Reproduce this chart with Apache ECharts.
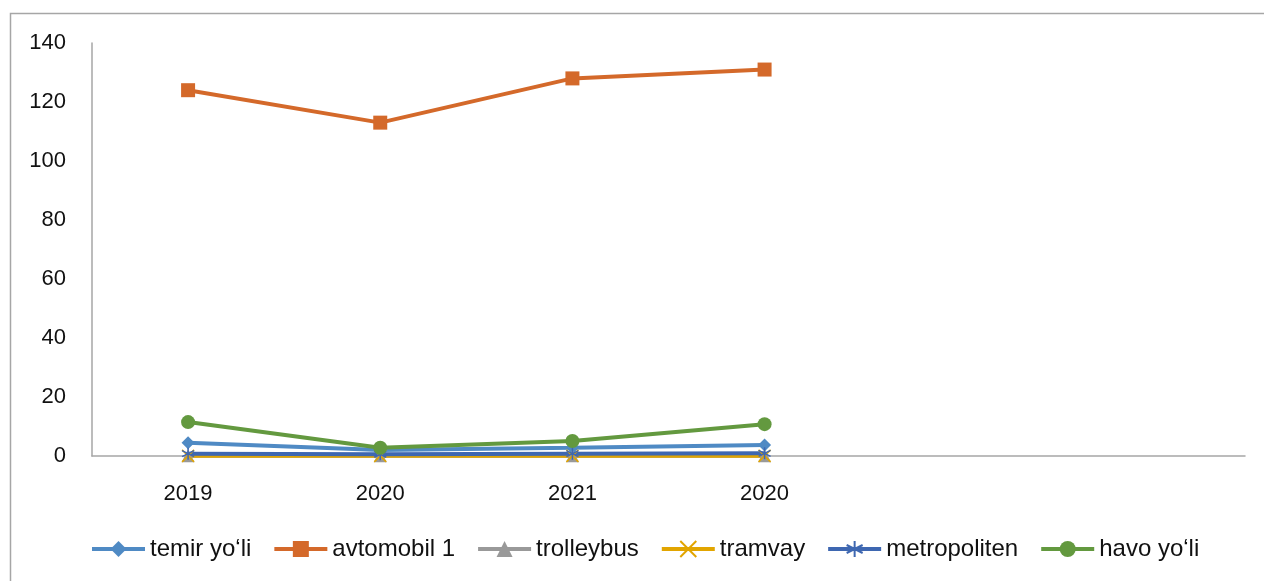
<!DOCTYPE html>
<html>
<head>
<meta charset="utf-8">
<script src="https://cdn.jsdelivr.net/npm/echarts@6/dist/echarts.min.js"></script>
<style>
  html, body { margin: 0; padding: 0; background: #fff; }
  #chart { width: 1264px; height: 581px; }
</style>
</head>
<body>
<div id="chart"></div>
<script>
// categories (last two slots are empty on the axis)
const years = ['2019', '2020', '2021', '2020', '', ''];

const temirYoli = [4.5, 2.0, 2.8, 3.7];
const avtomobil = [124, 113, 128, 131];
const trolleybus = [0.1, 0.1, 0.1, 0.1];
const tramvay = [0.05, 0.05, 0.05, 0.05];
const metropoliten = [0.8, 0.6, 0.8, 0.9];
const havoYoli = [11.5, 2.8, 5.1, 10.8];

const yTicks = [0, 20, 40, 60, 80, 100, 120, 140];

const FONT = '"Liberation Sans", Arial, sans-serif';

const chart = echarts.init(document.getElementById('chart'));

function makeSeries(name, data, color, symbol, size) {
    return {
        name: name,
        type: 'line',
        data: data,
        symbol: symbol,
        symbolSize: size,
        lineStyle: { color: color, width: 4 },
        itemStyle: { color: color },
        emphasis: { disabled: true },
    };
}

const starPath = 'path://M0,-10L0,10M-8.66,-5L8.66,5M-8.66,5L8.66,-5';
const crossPath = 'path://M-10,-10L10,10M-10,10L10,-10';

const seriesList = [
    makeSeries('temir yo‘li', temirYoli, '#4f8ac4', 'diamond', 13),
    makeSeries('avtomobil 1', avtomobil, '#d4692a', 'rect', 14),
    makeSeries('trolleybus', trolleybus, '#999999', 'triangle', 13),
    makeSeries('tramvay', tramvay, '#e2a500', crossPath, 12),
    makeSeries('metropoliten', metropoliten, '#3e67b1', starPath, 12),
    makeSeries('havo yo‘li', havoYoli, '#63993f', 'circle', 14),
];
// stroke-only markers
seriesList[3].itemStyle = { color: 'none', borderColor: '#e2a500', borderWidth: 1.5 };
seriesList[4].itemStyle = { color: 'none', borderColor: '#3e67b1', borderWidth: 1.5 };

const option = {
    animation: false,
    textStyle: { fontFamily: FONT },
    graphic: [
        {
            type: 'rect',
            shape: { x: 10.5, y: 13.5, width: 1300, height: 620 },
            style: { fill: 'none', stroke: '#a6a6a6', lineWidth: 1.5 },
            silent: true,
        },
    ],
    grid: {
        left: 92,
        right: 19,
        top: 43,
        bottom: 125,
        containLabel: false,
    },
    legend: {
        top: 537,
        left: 90,
        padding: 0,
        itemWidth: 53,
        itemHeight: 20,
        itemGap: 21,
        lineStyle: { width: 4 },
        textStyle: { fontSize: 24, color: '#111', fontFamily: FONT },
        data: seriesList.map(s => s.name),
    },
    xAxis: {
        type: 'category',
        data: years,
        boundaryGap: true,
        axisLine: { lineStyle: { color: '#a6a6a6', width: 1.5 } },
        axisTick: { show: false },
        axisLabel: { fontSize: 22, color: '#111', margin: 27 },
        splitLine: { show: false },
    },
    yAxis: {
        type: 'value',
        min: yTicks[0],
        max: yTicks[yTicks.length - 1],
        interval: 20,
        axisLine: { show: true, lineStyle: { color: '#a6a6a6', width: 1.5 } },
        axisTick: { show: false },
        axisLabel: { fontSize: 22, color: '#111', margin: 26 },
        splitLine: { show: false },
    },
    series: seriesList,
};

chart.setOption(option);
</script>
</body>
</html>
